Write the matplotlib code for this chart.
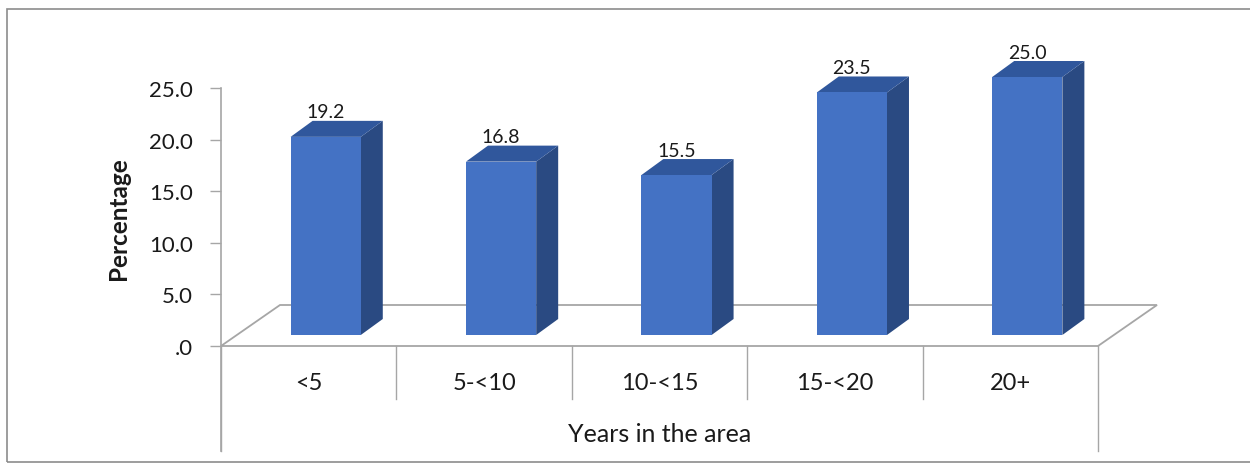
import matplotlib.pyplot as plt
from matplotlib.patches import Polygon, Rectangle
from matplotlib.ticker import FuncFormatter

plt.rcParams['font.family'] = ['Lato', 'DejaVu Sans']

# Share of respondents by years lived in the area
categories = ['<5', '5-<10', '10-<15', '15-<20', '20+']
percentages = [19.2, 16.8, 15.5, 23.5, 25.0]

FRONT = '#4472C4'
TOP = '#30579C'
SIDE = '#2A4A82'
GRID = '#A6A6A6'
TEXT = '#1a1a1a'

W, H = 1250, 464
fig = plt.figure(figsize=(W / 100, H / 100), dpi=100)
# axes placed in pixel terms: y=0 on the floor front edge, 25 at the top tick
ax = fig.add_axes([221 / W, 12 / H, 877 / W, 363 / H])
ymin = -(452 - 347) / (258 / 25)
ax.set_xlim(-0.5, len(categories) - 0.5)
ax.set_ylim(ymin, 25)

px_x = 877 / len(categories)
px_y = 258 / 25


def depth(dx, dy):
    """pixel offset -> data offset"""
    return dx / px_x, dy / px_y


# floor of the 3-D plot
fdx, fdy = depth(59, 41)
x0, x1 = -0.5, len(categories) - 0.5
floor = Polygon([(x0, 0), (x0 + fdx, fdy), (x1 + fdx, fdy), (x1, 0)],
                closed=True, facecolor='white', edgecolor=GRID, lw=1.3,
                zorder=1, clip_on=False)
ax.add_patch(floor)

# bars with top and side faces
ox, oy = depth(17, 11)
bdx, bdy = depth(22, 16)
bw = 0.4
for i, v in enumerate(percentages):
    l = i - bw / 2 + ox
    r = l + bw
    b = oy
    t = oy + v
    side = Polygon([(r, b), (r + bdx, b + bdy), (r + bdx, t + bdy), (r, t)],
                   closed=True, facecolor=SIDE, edgecolor='none', zorder=3,
                   clip_on=False)
    top = Polygon([(l, t), (l + bdx, t + bdy), (r + bdx, t + bdy), (r, t)],
                  closed=True, facecolor=TOP, edgecolor='none', zorder=3,
                  clip_on=False)
    ax.add_patch(side)
    ax.add_patch(top)
    ax.bar(i + ox, v, width=bw, bottom=b, color=FRONT, zorder=4,
           clip_on=False)
    ax.annotate(f'{v:.1f}', (i + ox, t), xytext=(0, 25),
                textcoords='offset pixels', ha='center', va='center',
                fontsize=14, color=TEXT, zorder=2, annotation_clip=False)

# category box below the floor
for k in range(len(categories) + 1):
    xb = k - 0.5
    low = ymin if k in (0, len(categories)) else -(400 - 347) / px_y
    ax.plot([xb, xb], [0, low], color=GRID, lw=1.0, clip_on=False, zorder=1)
for i, c in enumerate(categories):
    ax.text(i, -(383 - 347) / px_y, c, ha='center', va='center',
            fontsize=17, color=TEXT)

ax.set_xticks([])
ax.set_yticks([0, 5, 10, 15, 20, 25])
ax.yaxis.set_major_formatter(FuncFormatter(lambda v, p: f'{v:.1f}'.lstrip('0')))
ax.tick_params(axis='y', length=8, width=1.0, color=GRID, pad=12,
               labelsize=16, labelcolor=TEXT)
for s in ('top', 'right', 'bottom'):
    ax.spines[s].set_visible(False)
ax.spines['left'].set_color(GRID)
ax.spines['left'].set_linewidth(1.2)
ax.patch.set_visible(False)

ax.set_ylabel('Percentage', fontsize=17.5, fontweight='bold', va='center',
              color=TEXT)
ax.yaxis.set_label_coords(-0.117, 0.642)
ax.set_xlabel('Years in the area', fontsize=18, color=TEXT, va='center')
ax.xaxis.set_label_coords(0.5, (452 - 435) / 363)

# outer frame
fig.add_artist(Rectangle((7 / W, 1 - 463 / H), 1.2, (463 - 10) / H,
                         transform=fig.transFigure, fill=False,
                         edgecolor='#8C8C8C', lw=1.2))

fig.savefig('out.png', dpi=100)
